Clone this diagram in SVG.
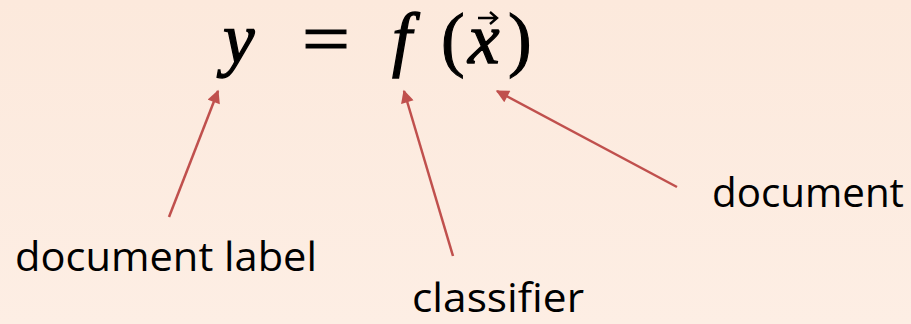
<svg xmlns="http://www.w3.org/2000/svg" width="911" height="324" viewBox="0 0 911 324">
<defs>
<linearGradient id="bg" x1="0" y1="0" x2="0" y2="1">
<stop offset="0" stop-color="#FCE9DC"/>
<stop offset="1" stop-color="#FDEEE4"/>
</linearGradient>
<marker id="ah" viewBox="0 0 10 10" refX="9" refY="5" markerWidth="5.6" markerHeight="5.2" orient="auto" markerUnits="strokeWidth">
<path d="M0,0 L10,5 L0,10 Z" fill="#C0504D"/>
</marker>
<style>
.eq{font-family:"Liberation Serif","DejaVu Serif",serif;font-style:italic;font-size:71px;fill:#000;stroke:#000;stroke-width:1.3}
.eqn{font-family:"Liberation Serif","DejaVu Serif",serif;font-size:71px;fill:#000;stroke:#000;stroke-width:1.1}
.lbl{font-family:"Open Sans","Liberation Sans",sans-serif;font-size:41px;fill:#000}
.arr{stroke:#C0504D;stroke-width:2.5;fill:none;marker-end:url(#ah)}
</style>
</defs>
<rect width="911" height="324" fill="url(#bg)"/>
<g id="equation">
<text class="eq" x="223" y="63">y</text>
<text class="eqn" x="302" y="63" textLength="48" lengthAdjust="spacingAndGlyphs">=</text>
<text class="eq" x="392" y="63">f</text>
<text class="eqn" x="441" y="63">(</text>
<text class="eq" x="468" y="63">x</text>
<text class="eqn" x="508" y="63">)</text>
<path d="M478,18 L496,18 M490,12 L497,18 L490,24" stroke="#000" stroke-width="2.4" fill="none"/>
</g>
<g id="label-document-label"><text class="lbl" x="15" y="271" textLength="302" lengthAdjust="spacingAndGlyphs">document label</text></g>
<g id="label-classifier"><text class="lbl" x="412" y="312" textLength="172" lengthAdjust="spacingAndGlyphs">classifier</text></g>
<g id="label-document"><text class="lbl" x="712" y="207" textLength="192" lengthAdjust="spacingAndGlyphs">document</text></g>
<g id="connectors">
<line class="arr" x1="169" y1="217" x2="218" y2="91"/>
<line class="arr" x1="453" y1="256" x2="404" y2="91"/>
<line class="arr" x1="677" y1="187" x2="497" y2="91"/>
</g>
</svg>
